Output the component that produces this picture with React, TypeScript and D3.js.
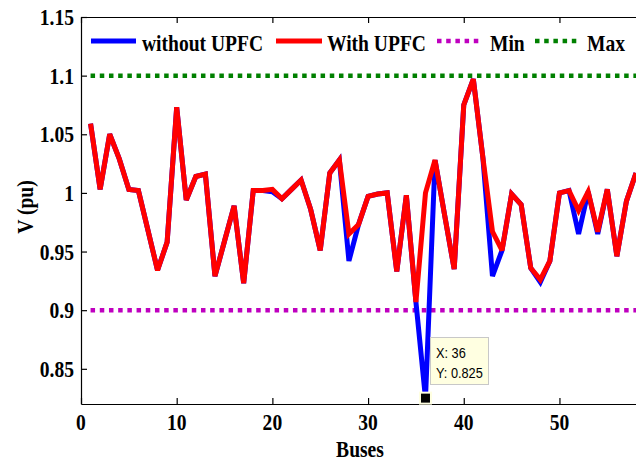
import React, { useEffect, useRef } from 'react';
import * as d3 from 'd3';

// bus numbers 1..58
const buses = [
  1, 2, 3, 4, 5, 6, 7, 8, 9, 10, 11, 12, 13, 14, 15, 16, 17, 18, 19, 20,
  21, 22, 23, 24, 25, 26, 27, 28, 29, 30, 31, 32, 33, 34, 35, 36, 37, 38, 39, 40,
  41, 42, 43, 44, 45, 46, 47, 48, 49, 50, 51, 52, 53, 54, 55, 56, 57, 58
];

const withoutUpfc = [
  1.059, 1.003, 1.050, 1.029, 1.003, 1.002, 0.968, 0.934, 0.958, 1.073,
  0.994, 1.014, 1.016, 0.929, 0.959, 0.989, 0.923, 1.002, 1.002, 1.001,
  0.995, 1.003, 1.011, 0.986, 0.951, 1.017, 1.028, 0.942, 0.973, 0.997,
  0.999, 1.000, 0.933, 0.998, 0.907, 0.825, 1.028, 0.981, 0.935, 1.075,
  1.097, 1.030, 0.929, 0.951, 0.999, 0.990, 0.936, 0.924, 0.942, 1.000,
  1.002, 0.965, 1.001, 0.965, 1.003, 0.946, 0.993, 1.017
];

const withUpfc = [
  1.059, 1.003, 1.050, 1.029, 1.003, 1.002, 0.968, 0.934, 0.958, 1.073,
  0.994, 1.014, 1.016, 0.929, 0.959, 0.989, 0.923, 1.002, 1.002, 1.003,
  0.995, 1.003, 1.011, 0.986, 0.951, 1.017, 1.028, 0.965, 0.973, 0.997,
  0.999, 1.000, 0.933, 0.998, 0.907, 1.000, 1.028, 0.981, 0.935, 1.075,
  1.097, 1.030, 0.967, 0.951, 0.999, 0.990, 0.936, 0.926, 0.942, 1.000,
  1.002, 0.985, 1.001, 0.967, 1.003, 0.946, 0.993, 1.017
];

const vMin = 0.9;
const vMax = 1.1;

const xTicks = [0, 10, 20, 30, 40, 50];
const yTicks = [0.85, 0.9, 0.95, 1, 1.05, 1.1, 1.15];
const yTickLabels = ['0.85', '0.9', '0.95', '1', '1.05', '1.1', '1.15'];

// data tip
const tipBus = 36;
const tipValue = 0.825;

const W = 636;
const H = 461;
const FONT = '"Liberation Serif", "Times New Roman", serif';
const SX = 0.85; // the serif font in the figure is narrow

export default function App() {
  const ref = useRef(null);

  useEffect(() => {
    const root = d3.select(ref.current);
    root.selectAll('*').remove();

    const svg = root.append('svg')
      .attr('width', W)
      .attr('height', H)
      .style('position', 'absolute')
      .style('left', '0px')
      .style('top', '0px')
      .style('background', '#fff');

    const left = 81, right = 636, top = 17, bottom = 404;

    const x = d3.scaleLinear().domain([0, 58]).range([left, right]);
    const y = d3.scaleLinear().domain([0.82, 1.15]).range([bottom, top]);

    // narrow bold serif text
    const label = (g, txt, tx, ty, anchor, size = 23, rot = 0) => {
      g.append('text')
        .attr('transform', `translate(${tx},${ty}) rotate(${rot}) scale(${SX},1)`)
        .attr('text-anchor', anchor)
        .style('font-family', FONT)
        .style('font-weight', 'bold')
        .style('font-size', size + 'px')
        .attr('fill', '#000')
        .text(txt);
    };

    // limit lines
    const limLine = (v, color) => {
      svg.append('line')
        .attr('x1', x(1)).attr('x2', x(58))
        .attr('y1', y(v)).attr('y2', y(v))
        .attr('stroke', color)
        .attr('stroke-width', 4.5)
        .attr('stroke-dasharray', '4.5,4.7');
    };
    limLine(vMin, '#bf00bf');
    limLine(vMax, '#008000');

    // voltage profiles
    const line = d3.line()
      .x((d, i) => x(buses[i]))
      .y(d => y(d));

    svg.append('path')
      .datum(withoutUpfc)
      .attr('d', line)
      .attr('fill', 'none')
      .attr('stroke', '#0000ff')
      .attr('stroke-width', 5)
      .attr('stroke-linejoin', 'miter')
      .attr('stroke-miterlimit', 3);

    svg.append('path')
      .datum(withUpfc)
      .attr('d', line)
      .attr('fill', 'none')
      .attr('stroke', '#ff0000')
      .attr('stroke-width', 5)
      .attr('stroke-linejoin', 'miter')
      .attr('stroke-miterlimit', 3);

    // axes (ticks inward)
    const axisStyle = g => {
      g.selectAll('path').attr('stroke', '#000').attr('stroke-width', 1.2);
      g.selectAll('line').attr('stroke', '#000').attr('stroke-width', 1.2);
      g.selectAll('text').remove();
    };

    svg.append('g')
      .attr('transform', `translate(0,${bottom})`)
      .call(d3.axisBottom(x).tickValues(xTicks).tickSizeInner(-6).tickSizeOuter(0))
      .call(axisStyle);

    svg.append('g')
      .attr('transform', `translate(0,${top})`)
      .call(d3.axisTop(x).tickValues(xTicks).tickSizeInner(-6).tickSizeOuter(0))
      .call(axisStyle);

    svg.append('g')
      .attr('transform', `translate(${left},0)`)
      .call(d3.axisLeft(y).tickValues(yTicks).tickSizeInner(-6).tickSizeOuter(0))
      .call(axisStyle);

    // tick labels
    const labels = svg.append('g');
    xTicks.forEach(t => label(labels, String(t), x(t), 430, 'middle'));
    yTicks.forEach((t, i) => label(labels, yTickLabels[i], 74, y(t) + 8, 'end'));

    label(labels, 'Buses', 360, 457, 'middle');
    label(labels, 'V (pu)', 33, 207, 'middle', 23, -90);

    // legend
    const lg = svg.append('g');
    const legendItems = [
      { name: 'without UPFC', color: '#0000ff', dash: null, x0: 91, x1: 136, tx: 142 },
      { name: 'With UPFC', color: '#ff0000', dash: null, x0: 276, x1: 322, tx: 327 },
      { name: 'Min', color: '#bf00bf', dash: '4.5,4.7', x0: 437, x1: 481, tx: 490 },
      { name: 'Max', color: '#008000', dash: '4.5,4.7', x0: 535, x1: 579, tx: 587 }
    ];
    legendItems.forEach(it => {
      lg.append('line')
        .attr('x1', it.x0).attr('x2', it.x1)
        .attr('y1', 41).attr('y2', 41)
        .attr('stroke', it.color)
        .attr('stroke-width', it.dash ? 4.5 : 5)
        .attr('stroke-dasharray', it.dash);
      label(lg, it.name, it.tx, 51, 'start');
    });

    // data tip
    const tip = svg.append('g');
    tip.append('rect')
      .attr('x', 430.5).attr('y', 337.5)
      .attr('width', 58).attr('height', 47)
      .attr('fill', '#ffffe1')
      .attr('stroke', '#c8c8c8')
      .attr('stroke-width', 1);
    const tipText = (txt, ty) => tip.append('text')
      .attr('transform', `translate(436,${ty}) scale(0.88,1)`)
      .style('font-family', '"Liberation Sans", Arial, sans-serif')
      .style('font-size', '14.5px')
      .attr('fill', '#000')
      .text(txt);
    tipText(`X: ${tipBus}`, 358);
    tipText(`Y: ${tipValue}`, 378);

    tip.append('rect')
      .attr('x', x(tipBus) - 5.5).attr('y', y(tipValue) - 5.5)
      .attr('width', 11).attr('height', 11)
      .attr('fill', '#000')
      .attr('stroke', '#ffffe1')
      .attr('stroke-width', 2);
  }, []);

  return <div ref={ref}></div>;
}
